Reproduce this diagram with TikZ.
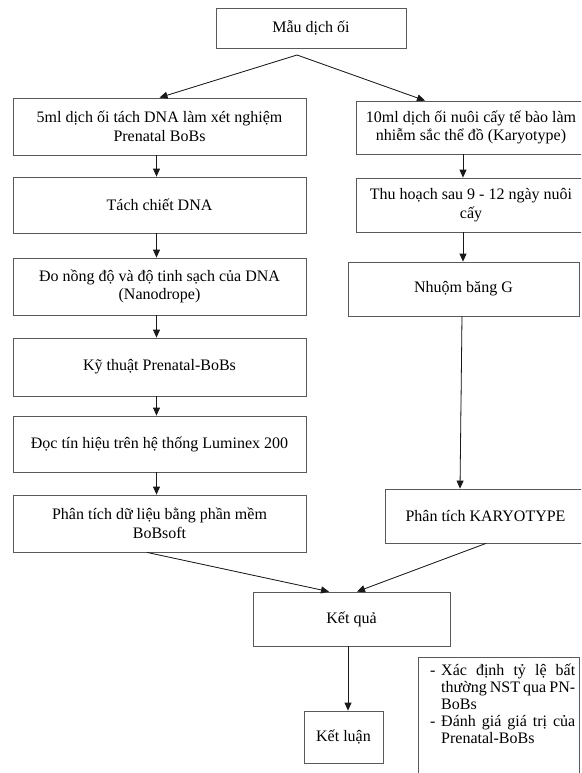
\documentclass[tikz,border=0pt]{standalone}
\usepackage{fontspec}
\setmainfont{Liberation Serif}
\usetikzlibrary{arrows.meta}
\hbadness=10000
\begin{document}
\begin{tikzpicture}[x=1pt,y=-1pt,
  box/.style={draw=black!65, line width=0.8pt, align=center, inner sep=0pt, fill=white,
    font=\fontsize{16}{18.5}\selectfont},
  arr/.style={-{Triangle[length=8pt,width=7pt]}, line width=0.8pt, draw=black!90, fill=black!90}]
\useasboundingbox (0,0) rectangle (581,773);
\clip (0,0) rectangle (581,773);
\fill[white] (0,0) rectangle (581,773);

\node[box, minimum width=190pt, minimum height=40pt] (mau) at (311,28) {Mẫu dịch ối};

\node[box, minimum width=293pt, minimum height=57pt] (b5) at (159.5,126.5) {5ml dịch ối tách DNA làm xét nghiệm\\Prenatal BoBs};
\node[box, minimum width=293pt, minimum height=56pt] (tach) at (159.5,205) {Tách chiết DNA};
\node[box, minimum width=293pt, minimum height=57pt] (do) at (159.5,286.5) {Đo nồng độ và độ tinh sạch của DNA\\(Nanodrope)};
\node[box, minimum width=293pt, minimum height=58pt] (kt) at (159.5,367) {Kỹ thuật Prenatal-BoBs};
\node[box, minimum width=293pt, minimum height=56pt] (doc) at (159.5,444) {Đọc tín hiệu trên hệ thống Luminex 200};
\node[box, minimum width=293pt, minimum height=57pt] (ptdl) at (159.5,523.5) {Phân tích dữ liệu bằng phần mềm\\BoBsoft};

\node[box, minimum width=230pt, minimum height=53pt] (b10) at (471,127.5) {10ml dịch ối nuôi cấy tế bào làm\\nhiễm sắc thể đồ (Karyotype)};
\node[box, minimum width=230pt, minimum height=54pt] (thu) at (471,205) {Thu hoạch sau 9 - 12 ngày nuôi\\cấy};
\node[box, minimum width=231pt, minimum height=54pt] (nhuom) at (463.5,289) {Nhuộm băng G};
\node[box, minimum width=201pt, minimum height=54pt] (kar) at (485.5,516) {Phân tích KARYOTYPE};

\node[box, minimum width=197pt, minimum height=54pt] (kq) at (351.5,619) {Kết quả};
\node[box, minimum width=79pt, minimum height=52pt] (kl) at (343.5,737) {Kết luận};

\draw[draw=black!65, line width=0.8pt, fill=white] (418,657) rectangle (579,800);
\node[anchor=north west, inner sep=0pt, text width=145pt, align=justify,
  font=\fontsize{16}{17}\selectfont] (notes) at (430,664)
  {\setlength{\parindent}{0pt}\hangindent=11pt\hangafter=1
   \makebox[11pt][l]{-}Xác định tỷ lệ bất\linebreak thường NST qua PN-\linebreak BoBs\par
   \hangindent=11pt\hangafter=1
   \makebox[11pt][l]{-}Đánh giá giá trị của\linebreak Prenatal-BoBs\par};

\coordinate (split) at (297,55);
\draw[arr] (split) -- (b5.north);
\draw[arr] (split) -- ([xshift=-46pt]b10.north);

\draw[arr] ([xshift=-3pt]b5.south) -- ([xshift=-3pt]tach.north);
\draw[arr] ([xshift=-3pt]tach.south) -- ([xshift=-3pt]do.north);
\draw[arr] ([xshift=-3pt]do.south) -- ([xshift=-3pt]kt.north);
\draw[arr] ([xshift=-3pt]kt.south) -- ([xshift=-3pt]doc.north);
\draw[arr] ([xshift=-3pt]doc.south) -- ([xshift=-3pt]ptdl.north);

\draw[arr] ([xshift=-8pt]b10.south) -- ([xshift=-8pt]thu.north);
\draw[arr] ([xshift=-8pt]thu.south) -- ([xshift=-0.5pt]nhuom.north);
\draw[arr] ([xshift=-1.5pt]nhuom.south) -- ([xshift=-25.5pt]kar.north);

\draw[arr] ([xshift=-12.5pt]ptdl.south) -- ([xshift=-22.5pt]kq.north);
\draw[arr] ([xshift=0.5pt]kar.south) -- ([xshift=5.5pt]kq.north);
\draw[arr] ([xshift=-3.5pt]kq.south) -- ([xshift=4.5pt]kl.north);
\end{tikzpicture}
\end{document}
